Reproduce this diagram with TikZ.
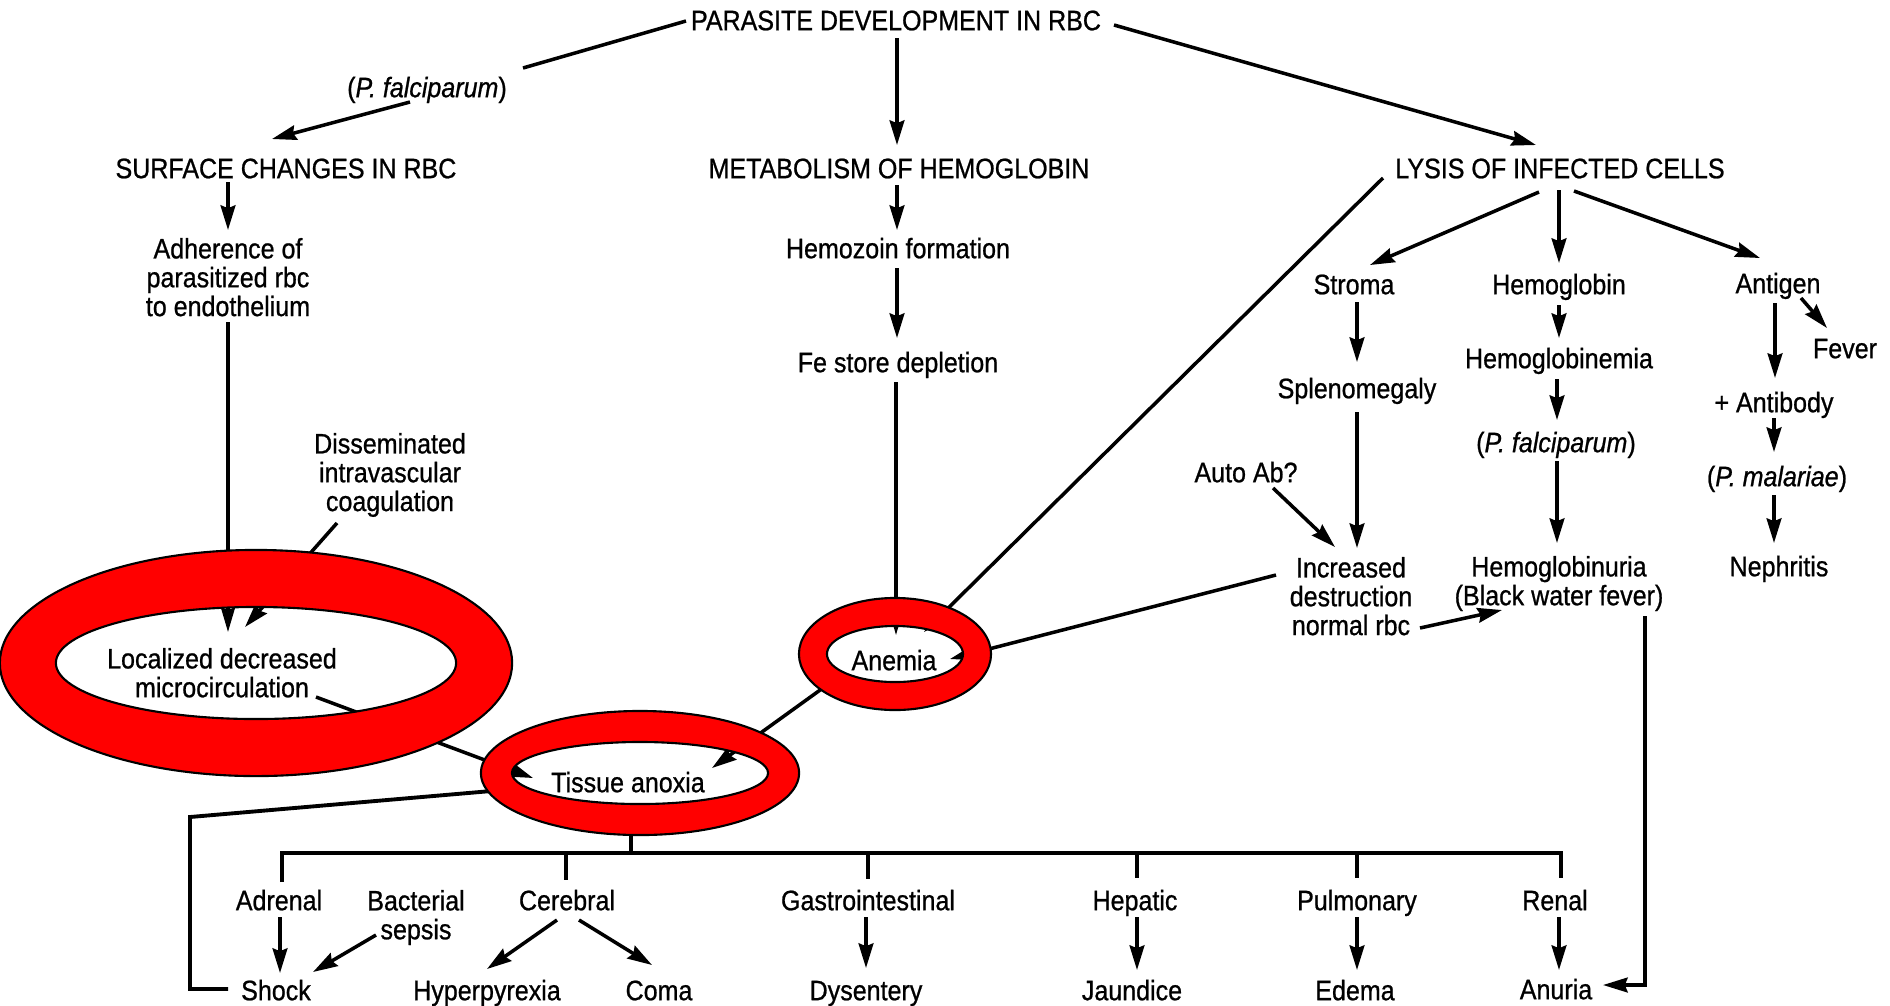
\documentclass[tikz,border=0pt]{standalone}
\usepackage{fontspec}
\setmainfont{Liberation Sans}[FakeStretch=0.89,FakeBold=0.8]
\usetikzlibrary{arrows.meta,calc}
\begin{document}
\begin{tikzpicture}[x=0.01cm,y=-0.01cm,
  lbl/.style={inner sep=0pt, outer sep=0pt, text height=5.8pt, text depth=0pt, font=\fontsize{8}{8.2}\selectfont},
  mlbl/.style={inner sep=0pt, outer sep=0pt, align=center, anchor=north, font=\fontsize{8}{8.2}\selectfont},
  con/.style={line width=1pt},
  arr/.style={line width=1pt, -{Stealth[length=7pt,width=4.2pt,inset=0.8pt]}},
  arrthin/.style={line width=0.9pt, -{Stealth[length=7pt,width=4pt,inset=0.8pt]}},
  bus/.style={line width=1.1pt},
  ring/.style={fill=red, draw=black, line width=0.6pt, even odd rule}]
\fill[white] (0,0) rectangle (1890,1005);
\useasboundingbox (0,0) rectangle (1890,1005);
% ---------- nodes
\node[lbl] (parasite) at (896,20) {PARASITE DEVELOPMENT IN RBC};
\node[lbl] (pf1) at (427,87) {(\textit{P. falciparum})};
\node[lbl] (surface) at (286,168) {SURFACE CHANGES IN RBC};
\node[lbl] (metab) at (899,168) {METABOLISM OF HEMOGLOBIN};
\node[lbl] (lysis) at (1560,168) {LYSIS OF INFECTED CELLS};
\node[mlbl] (adh) at (228,238) {Adherence of\\parasitized rbc\\to endothelium};
\node[lbl] (hemozoin) at (898,248) {Hemozoin formation};
\node[lbl] (fe) at (898,362) {Fe store depletion};
\node[lbl] (stroma) at (1354,284) {Stroma};
\node[lbl] (hgb) at (1559,284) {Hemoglobin};
\node[lbl] (antigen) at (1778,283) {Antigen};
\node[lbl] (fever) at (1845,348) {Fever};
\node[lbl] (spleno) at (1357,388) {Splenomegaly};
\node[lbl] (hgbemia) at (1559,358) {Hemoglobinemia};
\node[lbl] (antibody) at (1774,402) {+ Antibody};
\node[lbl] (pf2) at (1556,442) {(\textit{P. falciparum})};
\node[lbl] (pmal) at (1777,476) {(\textit{P. malariae})};
\node[lbl] (autoab) at (1246,472) {Auto Ab?};
\node[mlbl] (incr) at (1351,557) {Increased\\destruction\\normal rbc};
\node[mlbl] (hgburia) at (1559,556) {Hemoglobinuria\\(Black water fever)};
\node[lbl] (nephritis) at (1779,566) {Nephritis};
\node[mlbl] (dic) at (390,433) {Disseminated\\intravascular\\coagulation};
\node[mlbl] (localized) at (222,648) {Localized decreased\\microcirculation};
\node[lbl] (anemia) at (894,660) {Anemia};
\node[lbl] (tissue) at (628,782) {Tissue anoxia};
\node[lbl] (adrenal) at (279,900) {Adrenal};
\node[mlbl] (bact) at (416,890) {Bacterial\\sepsis};
\node[lbl] (cerebral) at (567,900) {Cerebral};
\node[lbl] (gastro) at (868,900) {Gastrointestinal};
\node[lbl] (hepatic) at (1135,900) {Hepatic};
\node[lbl] (pulmonary) at (1357,900) {Pulmonary};
\node[lbl] (renal) at (1555,900) {Renal};
\node[lbl] (shock) at (276,990) {Shock};
\node[lbl] (hyper) at (487,990) {Hyperpyrexia};
\node[lbl] (coma) at (659,990) {Coma};
\node[lbl] (dysentery) at (866,990) {Dysentery};
\node[lbl] (jaundice) at (1132,990) {Jaundice};
\node[lbl] (edema) at (1355,990) {Edema};
\node[lbl] (anuria) at (1556,989) {Anuria};
% ---------- connectors
\draw[con] ($(parasite)+(-210,1)$) -- ($(pf1)+(96,-19)$);
\draw[arr] ($(pf1)+(-17,15)$) -- ($(surface)+(-14,-29)$);
\draw[arr] ($(parasite)+(1,18)$) -- ($(metab)+(-2,-23)$);
\draw[arr] ($(parasite)+(218,5)$) -- ($(lysis)+(-24,-23)$);
\draw[arr] ($(surface)+(-58,14)$) -- ($(adh.north)+(0,-8)$);
\draw[arrthin] ($(adh.north)+(0,84)$) -- ($(localized.north)+(6,-16)$);
\draw[arr] ($(dic.north)+(-53,90)$) -- ($(localized.north)+(23,-21)$);
\draw[arr] ($(localized.north)+(94,49)$) -- ($(tissue)+(-95,-4)$);
\draw[arr] ($(metab)+(-2,17)$) -- ($(hemozoin)+(-1,-18)$);
\draw[arr] ($(hemozoin)+(-1,20)$) -- ($(fe)+(-1,-24)$);
\draw[arrthin] ($(fe)+(-2,20)$) -- ($(anemia)+(2,-25)$);
\draw[arr] ($(lysis)+(-177,10)$) -- ($(anemia)+(30,-28)$);
\draw[arr] ($(lysis)+(-21,24)$) -- ($(stroma)+(16,-19)$);
\draw[arr] ($(lysis)+(-1,22)$) -- ($(hgb)+(0,-21)$);
\draw[arr] ($(lysis)+(14,23)$) -- ($(antigen)+(-18,-25)$);
\draw[arr] ($(stroma)+(3,18)$) -- ($(spleno)+(0,-26)$);
\draw[arr] ($(hgb)+(0,21)$) -- ($(hgbemia)+(0,-20)$);
\draw[arr] ($(antigen)+(23,15)$) -- ($(fever)+(-18,-20)$);
\draw[arr] ($(antigen)+(-3,20)$) -- ($(antibody)+(1,-24)$);
\draw[arr] ($(spleno)+(0,24)$) -- ($(incr.north)+(6,-9)$);
\draw[arr] ($(autoab)+(27,16)$) -- ($(incr.north)+(-16,-10)$);
\draw[arr] ($(incr.north)+(-75,18)$) -- ($(anemia)+(56,-1)$);
\draw[arr] ($(incr.north)+(69,71)$) -- ($(hgburia.north)+(-57,54)$);
\draw[arr] ($(hgbemia)+(-2,21)$) -- ($(pf2)+(1,-22)$);
\draw[arr] ($(pf2)+(1,19)$) -- ($(hgburia.north)+(-2,-13)$);
\draw[arr] ($(antibody)+(0,16)$) -- ($(pmal)+(-3,-24)$);
\draw[arr] ($(pmal)+(-3,19)$) -- ($(nephritis)+(-5,-23)$);
\draw[arr] ($(hgburia.north)+(86,60)$) |- ($(anuria)+(47,-4)$);
\draw[arr] ($(anemia)+(-60,20)$) -- ($(tissue)+(84,-14)$);
\coordinate (shockcorner) at (190,817);
\draw[bus] ($(tissue)+(-125,8)$) -- (shockcorner) |- ($(shock)+(-48,-1)$);
\draw[bus] ($(tissue)+(3,40)$) -- ($(tissue)+(3,71)$);
\draw[bus] ($(adrenal)+(3,-18)$) |- ($(renal)+(6,-47)$) -- ($(renal)+(6,-22)$);
\draw[bus] ($(cerebral)+(-1,-47)$) -- ($(cerebral)+(-1,-20)$);
\draw[bus] ($(gastro)+(0,-47)$) -- ($(gastro)+(0,-21)$);
\draw[bus] ($(hepatic)+(2,-47)$) -- ($(hepatic)+(2,-22)$);
\draw[bus] ($(pulmonary)+(0,-47)$) -- ($(pulmonary)+(0,-22)$);
\draw[arr] ($(adrenal)+(1,17)$) -- ($(shock)+(4,-17)$);
\draw[arr] ($(bact.north)+(-40,45)$) -- ($(shock)+(37,-18)$);
\draw[arr] ($(cerebral)+(-10,20)$) -- ($(hyper)+(0,-21)$);
\draw[arr] ($(cerebral)+(12,20)$) -- ($(coma)+(-7,-25)$);
\draw[arr] ($(gastro)+(-2,17)$) -- ($(dysentery)+(0,-22)$);
\draw[arr] ($(hepatic)+(2,17)$) -- ($(jaundice)+(5,-20)$);
\draw[arr] ($(pulmonary)+(0,17)$) -- ($(edema)+(2,-20)$);
\draw[arr] ($(renal)+(4,17)$) -- ($(anuria)+(3,-19)$);
% ---------- red rings
\path[ring] (256,663) ellipse[x radius=2.56cm, y radius=1.13cm] (256,663) ellipse[x radius=2.00cm, y radius=0.56cm];
\path[ring] (895,654) ellipse[x radius=0.96cm, y radius=0.56cm] (895,654) ellipse[x radius=0.68cm, y radius=0.28cm];
\path[ring] (640,773) ellipse[x radius=1.59cm, y radius=0.62cm] (640,773) ellipse[x radius=1.28cm, y radius=0.31cm];
\end{tikzpicture}
\end{document}
